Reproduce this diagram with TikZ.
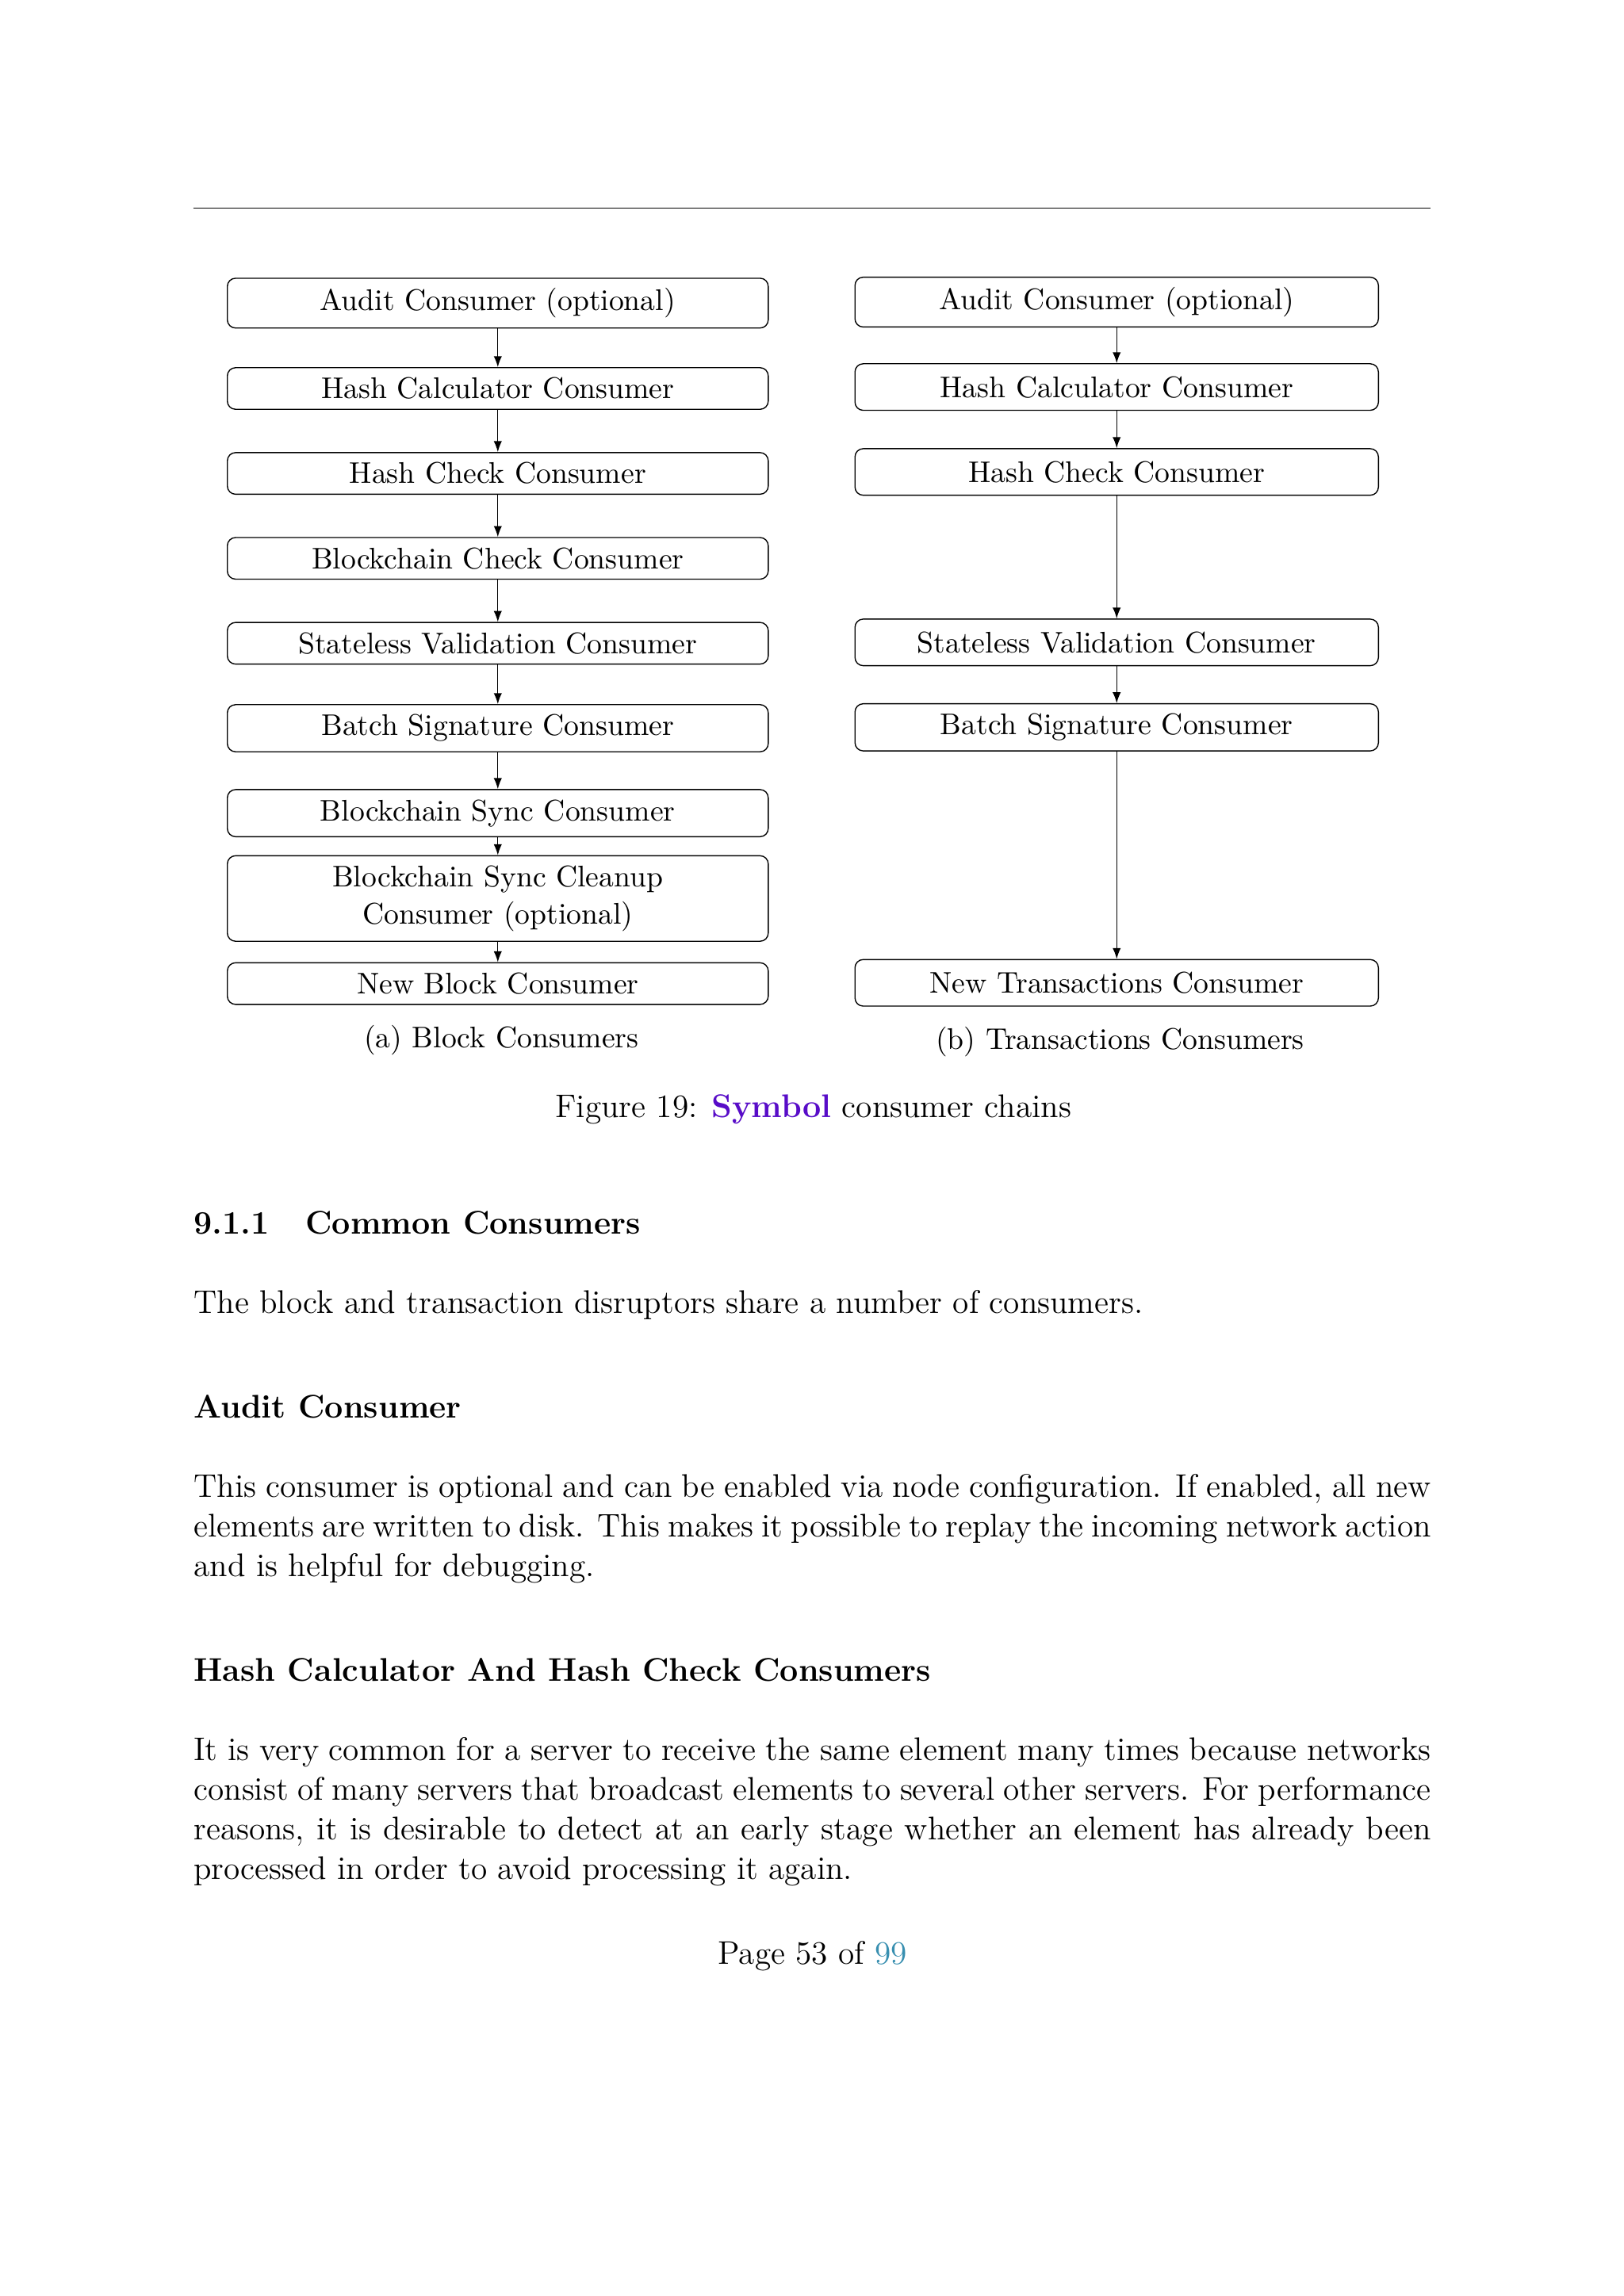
\documentclass[tikz,border=0pt]{standalone}
\usepackage{fontspec}
\usetikzlibrary{arrows.meta}
\definecolor{symbolpurple}{RGB}{88,12,200}
\definecolor{linkteal}{RGB}{56,143,176}
\newcommand{\bodysize}{\fontsize{12}{14.5}\selectfont}
\newcommand{\figsize}{\fontsize{10.95}{13.6}\selectfont}
\begin{document}
\begin{tikzpicture}[x=0.53677pt,y=-0.53692pt,
  leftbox/.style={draw, rounded corners=3pt, font=\figsize, minimum width=198.3pt, align=center, inner sep=3.65pt},
  rightbox/.style={draw, rounded corners=3pt, font=\figsize, minimum width=191.9pt, minimum height=17.07pt, align=center, inner sep=3.65pt},
  flow/.style={-{Latex[length=4pt,width=3pt]}, line width=0.4pt},
  sub/.style={font=\figsize, anchor=base, inner sep=0pt},
  txt/.style={font=\bodysize, anchor=base west, inner sep=0pt},
  para/.style={font=\bodysize, anchor=base west, inner sep=0pt}]
\useasboundingbox (0,0) rectangle (1109,1568);
\fill[white] (0,0) rectangle (1109,1568);
% header rule
\draw[line width=0.4pt] (132,142) -- (977,142);
% left chain
\node[leftbox] (la) at (340,207) {Audit Consumer (optional)};
\node[leftbox] (lb) at (340,265.3) {Hash Calculator Consumer};
\node[leftbox] (lc) at (340,323.3) {Hash Check Consumer};
\node[leftbox] (ld) at (340,381.3) {Blockchain Check Consumer};
\node[leftbox] (le) at (340,439.3) {Stateless Validation Consumer};
\node[leftbox] (lf) at (340,497.3) {Batch Signature Consumer};
\node[leftbox] (lg) at (340,555.3) {Blockchain Sync Consumer};
\node[leftbox] (lh) at (340,613.6) {Blockchain Sync Cleanup\\Consumer (optional)};
\node[leftbox] (li) at (340,671.7) {New Block Consumer};
\foreach \a/\b in {la/lb,lb/lc,lc/ld,ld/le,le/lf,lf/lg,lg/lh,lh/li}
  \draw[flow] (\a.south) -- (\b.north);
\node[sub] (capa) at (342.5,715.5) {(a) Block Consumers};
% right chain
\node[rightbox] (ra) at (762.7,206.3) {Audit Consumer (optional)};
\node[rightbox] (rb) at (762.7,264.3) {Hash Calculator Consumer};
\node[rightbox] (rc) at (762.7,322.3) {Hash Check Consumer};
\node[rightbox] (rd) at (762.7,438.7) {Stateless Validation Consumer};
\node[rightbox] (re) at (762.7,496.7) {Batch Signature Consumer};
\node[rightbox] (rf) at (762.7,671.2) {New Transactions Consumer};
\foreach \a/\b in {ra/rb,rb/rc,rc/rd,rd/re,re/rf}
  \draw[flow] (\a.south) -- (\b.north);
\node[sub] (capb) at (765,716.5) {(b) Transactions Consumers};
% figure caption
\node[font=\bodysize, anchor=base, inner sep=0pt] (figcap) at (555.5,763.3) {Figure 19: \textbf{\color{symbolpurple}Symbol} consumer chains};
% section
\node[txt] (sec) at (132,843) {\textbf{9.1.1}\hspace{1.1em}\textbf{Common Consumers}};
\node[txt] (intro) at (132,897) {The block and transaction disruptors share a number of consumers.};
\node[txt] (h1) at (132,968.5) {\textbf{Audit Consumer}};
\node[para] (p1) at (132,1022.6) {\parbox[t]{453.6pt}{\bodysize This consumer is optional and can be enabled via node configuration. If enabled, all new\linebreak elements are written to disk. This makes it possible to replay the incoming network action\linebreak and is helpful for debugging.}};
\node[txt] (h2) at (132,1148) {\textbf{Hash Calculator And Hash Check Consumers}};
\node[para] (p2) at (132,1202.5) {\parbox[t]{453.6pt}{\bodysize It is very common for a server to receive the same element many times because networks\linebreak consist of many servers that broadcast elements to several other servers. For performance\linebreak reasons, it is desirable to detect at an early stage whether an element has already been\linebreak processed in order to avoid processing it again.}};
\node[font=\bodysize, anchor=base, inner sep=0pt] (pg) at (555,1341.5) {Page 53 of {\color{linkteal}99}};
\end{tikzpicture}
\end{document}
